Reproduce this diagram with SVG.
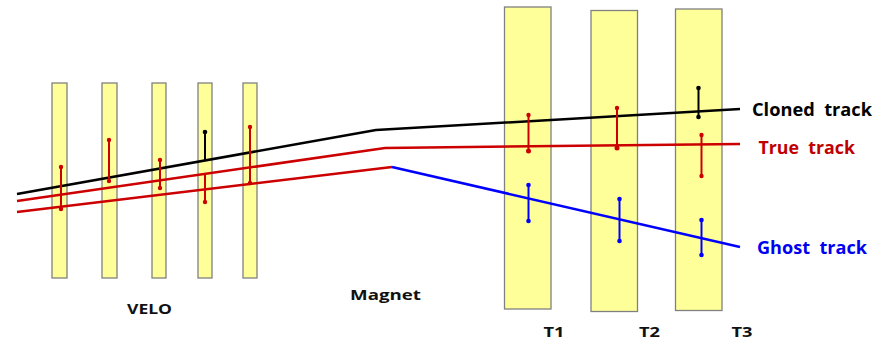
<svg xmlns="http://www.w3.org/2000/svg" width="883" height="341" viewBox="0 0 883 341">
<style>
.det{fill:#FFFF99;stroke:#808080;stroke-width:1.3}
.trk{fill:none;stroke-width:2.5;stroke-linejoin:round}
.bar{stroke-width:2}
.k{stroke:#000}
.r{stroke:#CC0000}
.b{stroke:#0000FF}
.dk{fill:#000}
.dr{fill:#CC0000}
.db{fill:#0000FF}
text{font-family:"Open Sans","DejaVu Sans",sans-serif;font-weight:bold}
.lbl{font-size:15px;fill:#111}
.tl{font-size:18px}
</style>
<g id="velo">
<rect class="det" x="52" y="83" width="15" height="195"/>
<rect class="det" x="102" y="83" width="15" height="195"/>
<rect class="det" x="152" y="83" width="14" height="195"/>
<rect class="det" x="198" y="83" width="14" height="195"/>
<rect class="det" x="243" y="83" width="14" height="195"/>
</g>
<g id="tstations">
<rect class="det" x="504.5" y="7" width="46.5" height="302"/>
<rect class="det" x="591" y="10.5" width="46.5" height="301"/>
<rect class="det" x="675.5" y="9" width="46.5" height="301.5"/>
</g>
<g id="connectors">
<polyline class="trk k" points="17,194 376,130 740,109"/>
<polyline class="trk r" points="17,201 385,148 740,144"/>
<polyline class="trk r" points="17,212 392,167"/>
<polyline class="trk b" points="392,167 740,247"/>
</g>
<g id="errorbars">
<g class="bar r">
<line x1="61" y1="167" x2="61" y2="209"/>
<line x1="109" y1="140" x2="109" y2="181"/>
<line x1="160" y1="160" x2="160" y2="188"/>
<line x1="205" y1="174" x2="205" y2="202"/>
<line x1="250" y1="127" x2="250" y2="183"/>
<line x1="528.5" y1="115" x2="528.5" y2="151"/>
<line x1="617" y1="108" x2="617" y2="148"/>
<line x1="701.5" y1="135" x2="701.5" y2="176"/>
</g>
<g class="dr">
<circle cx="61" cy="167" r="2.2"/><circle cx="61" cy="209" r="2.2"/>
<circle cx="109" cy="140" r="2.2"/><circle cx="109" cy="181" r="2.2"/>
<circle cx="160" cy="160" r="2.2"/><circle cx="160" cy="188" r="2.2"/>
<circle cx="205" cy="202" r="2.2"/>
<circle cx="250" cy="127" r="2.2"/><circle cx="250" cy="183" r="2.2"/>
<circle cx="528.5" cy="115" r="2.2"/><circle cx="528.5" cy="151" r="2.5"/>
<circle cx="617" cy="108" r="2.2"/><circle cx="617" cy="148" r="2.5"/>
<circle cx="701.5" cy="135" r="2.2"/><circle cx="701.5" cy="176" r="2.2"/>
</g>
<g class="bar k">
<line x1="205" y1="132" x2="205" y2="160"/>
<line x1="698.5" y1="88" x2="698.5" y2="117"/>
</g>
<g class="dk">
<circle cx="205" cy="132" r="2.3"/>
<circle cx="698.5" cy="88" r="2.3"/><circle cx="698.5" cy="117" r="2.3"/>
</g>
<g class="bar b">
<line x1="528.5" y1="185" x2="528.5" y2="221"/>
<line x1="619.5" y1="199" x2="619.5" y2="241"/>
<line x1="701.5" y1="220" x2="701.5" y2="255"/>
</g>
<g class="db">
<circle cx="528.5" cy="185" r="2.3"/><circle cx="528.5" cy="221" r="2.3"/>
<circle cx="619.5" cy="199" r="2.3"/><circle cx="619.5" cy="241" r="2.3"/>
<circle cx="701.5" cy="220" r="2.3"/><circle cx="701.5" cy="255" r="2.3"/>
</g>
</g>
<g id="labels">
<text class="lbl" x="127" y="314" textLength="45" lengthAdjust="spacingAndGlyphs">VELO</text>
<text class="lbl" x="350" y="300" textLength="71" lengthAdjust="spacingAndGlyphs">Magnet</text>
<text class="lbl" x="543.5" y="336.5" textLength="21" lengthAdjust="spacingAndGlyphs">T1</text>
<text class="lbl" x="639" y="336.5" textLength="21" lengthAdjust="spacingAndGlyphs">T2</text>
<text class="lbl" x="731.5" y="336.5" textLength="21" lengthAdjust="spacingAndGlyphs">T3</text>
<text class="tl" x="752" y="115.5" fill="#000" textLength="120" lengthAdjust="spacingAndGlyphs" xml:space="preserve">Cloned  track</text>
<text class="tl" x="758.5" y="153.5" fill="#C00000" textLength="96.5" lengthAdjust="spacingAndGlyphs" xml:space="preserve">True  track</text>
<text class="tl" x="757" y="254" fill="#0000F0" textLength="110" lengthAdjust="spacingAndGlyphs" xml:space="preserve">Ghost  track</text>
</g>
</svg>
